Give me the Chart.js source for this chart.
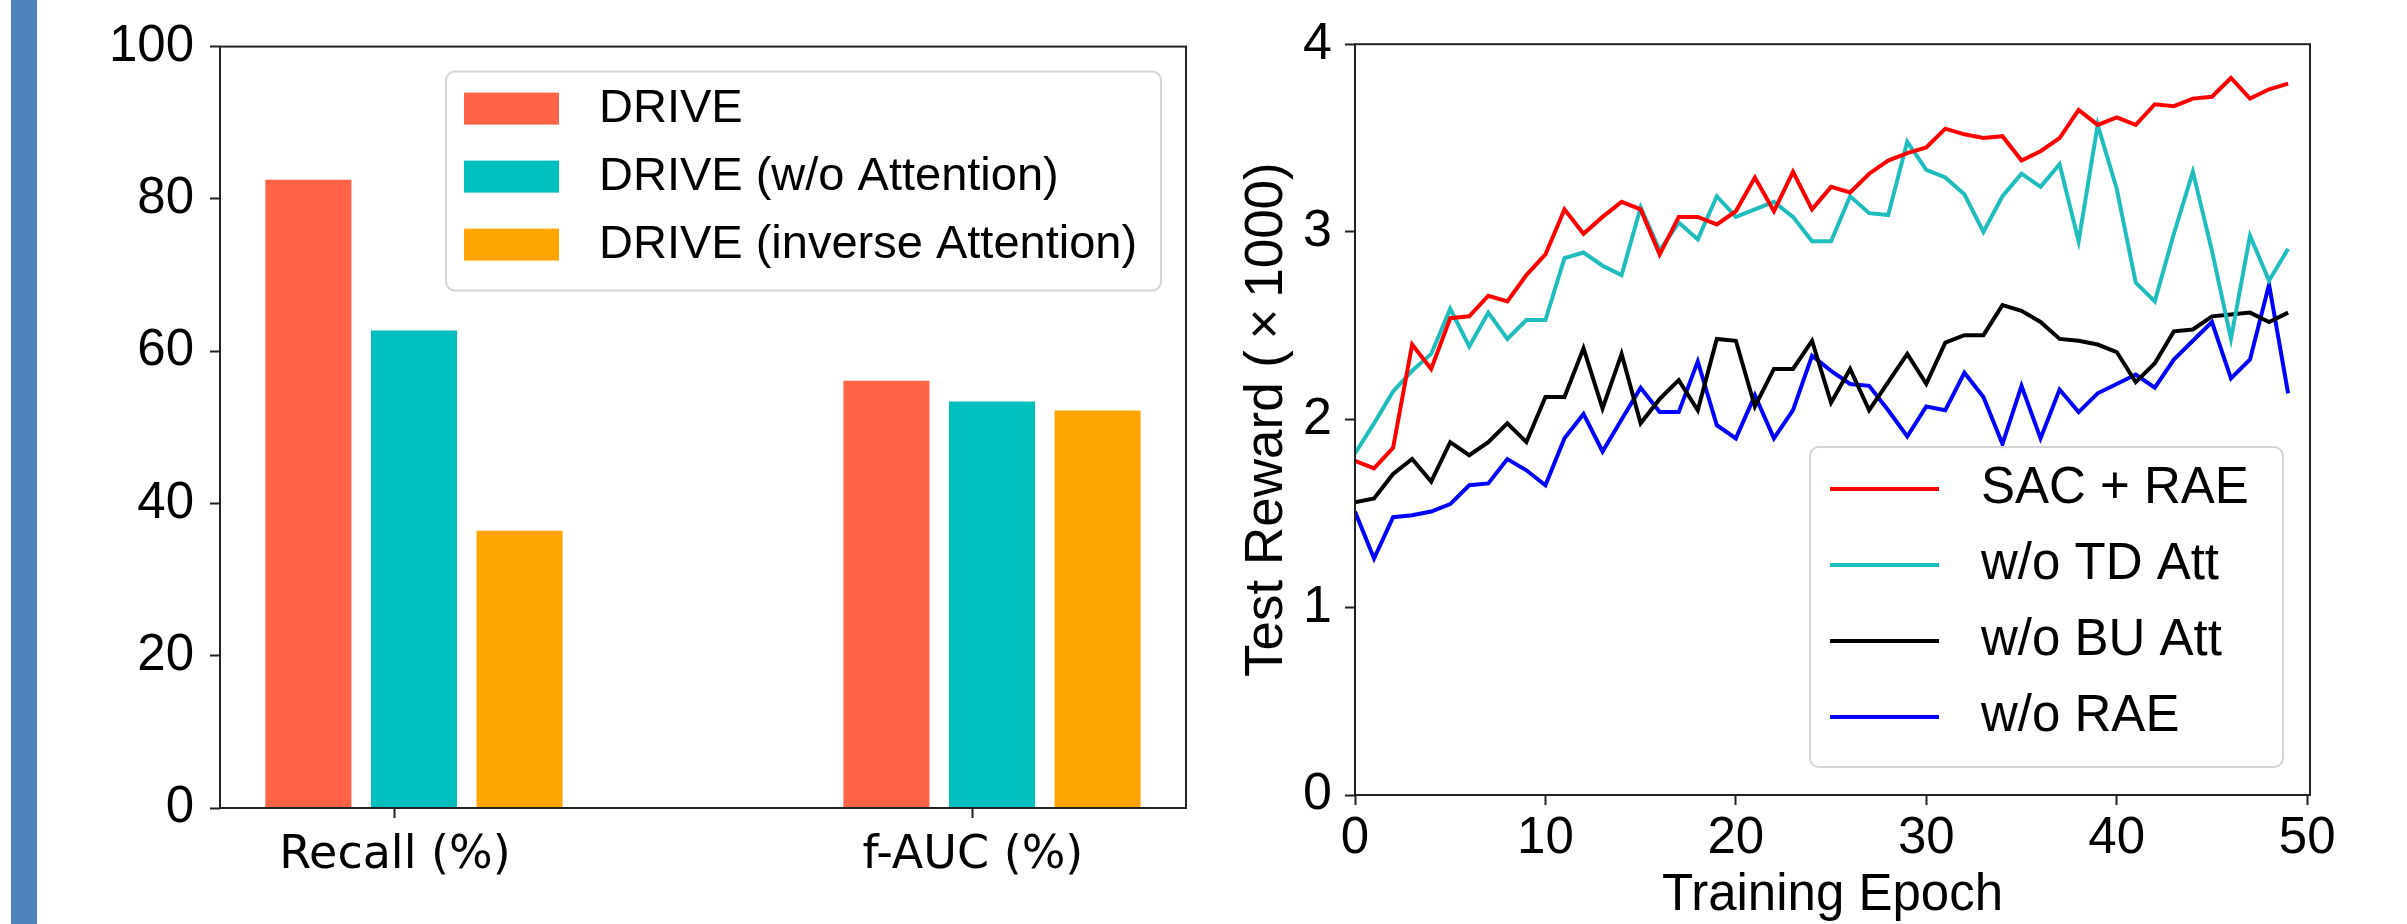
<!DOCTYPE html>
<html>
<head>
<meta charset="utf-8">
<script src="https://cdn.jsdelivr.net/npm/chart.js@4.4.1/dist/chart.umd.min.js"></script>
<style>
  html, body { margin: 0; padding: 0; background: #fff; }
  body { width: 2407px; height: 924px; position: relative; overflow: hidden; }
  #strip { position: absolute; left: 11px; top: 0; width: 26px; height: 924px; background: #4f81bd; }
  #barChart { position: absolute; left: 40px; top: 0; }
  #lineChart { position: absolute; left: 1230px; top: 0; }
</style>
</head>
<body>
<div id="strip"></div>
<canvas id="barChart" width="1190" height="924"></canvas>
<canvas id="lineChart" width="1177" height="924"></canvas>
<script>
// left panel: grouped bars
const metrics = ["Recall (%)", "f-AUC (%)"];
const driveVals = [82.5, 56.1];
const noAttVals = [62.7, 53.4];
const invAttVals = [36.4, 52.2];
const barTicks = [0, 20, 40, 60, 80, 100];

// right panel: test reward per epoch (x1000)
const epochs = [0, 1, 2, 3, 4, 5, 6, 7, 8, 9, 10, 11, 12, 13, 14, 15, 16, 17, 18, 19,
  20, 21, 22, 23, 24, 25, 26, 27, 28, 29, 30, 31, 32, 33, 34, 35, 36, 37, 38, 39,
  40, 41, 42, 43, 44, 45, 46, 47, 48, 49];
const sacRae = [1.78, 1.74, 1.85, 2.40, 2.27, 2.54, 2.55, 2.66, 2.63, 2.77,
  2.88, 3.12, 2.99, 3.08, 3.16, 3.12, 2.88, 3.08, 3.08, 3.04,
  3.11, 3.29, 3.11, 3.32, 3.12, 3.24, 3.21, 3.31, 3.38, 3.42,
  3.45, 3.55, 3.52, 3.50, 3.51, 3.38, 3.43, 3.50, 3.65, 3.57,
  3.61, 3.57, 3.68, 3.67, 3.71, 3.72, 3.82, 3.71, 3.76, 3.79];
const noTdAtt = [1.82, 1.98, 2.15, 2.26, 2.35, 2.59, 2.39, 2.57, 2.43, 2.53,
  2.53, 2.86, 2.89, 2.82, 2.77, 3.13, 2.90, 3.05, 2.96, 3.19,
  3.08, 3.12, 3.16, 3.08, 2.95, 2.95, 3.19, 3.10, 3.09, 3.48,
  3.33, 3.29, 3.20, 3.00, 3.19, 3.31, 3.24, 3.36, 2.95, 3.57,
  3.23, 2.73, 2.63, 2.99, 3.32, 2.90, 2.43, 2.98, 2.74, 2.91];
const noBuAtt = [1.56, 1.58, 1.71, 1.79, 1.67, 1.88, 1.81, 1.88, 1.98, 1.88,
  2.12, 2.12, 2.38, 2.06, 2.35, 1.98, 2.11, 2.21, 2.05, 2.43,
  2.42, 2.07, 2.27, 2.27, 2.42, 2.09, 2.27, 2.05, 2.20, 2.35,
  2.19, 2.41, 2.45, 2.45, 2.61, 2.58, 2.52, 2.43, 2.42, 2.40,
  2.36, 2.20, 2.30, 2.47, 2.48, 2.55, 2.56, 2.57, 2.52, 2.57];
const noRae = [1.51, 1.26, 1.48, 1.49, 1.51, 1.55, 1.65, 1.66, 1.79, 1.73,
  1.65, 1.90, 2.03, 1.83, 2.00, 2.17, 2.04, 2.04, 2.31, 1.97,
  1.90, 2.13, 1.90, 2.05, 2.34, 2.26, 2.19, 2.18, 2.05, 1.91,
  2.07, 2.05, 2.25, 2.12, 1.87, 2.18, 1.90, 2.16, 2.04, 2.14,
  2.19, 2.24, 2.17, 2.32, 2.42, 2.52, 2.22, 2.32, 2.72, 2.14];
const epochTicks = [0, 10, 20, 30, 40, 50];
const rewardTicks = [0, 1, 2, 3, 4];

Chart.defaults.font.family = "'Liberation Sans', Arial, sans-serif";
Chart.defaults.color = "#000";

const AXIS = "#222";

// matplotlib-style box around the plot area
const framePlugin = {
  id: "frame",
  afterDraw(chart) {
    const { ctx, chartArea: a } = chart;
    ctx.save();
    ctx.strokeStyle = AXIS;
    ctx.lineWidth = 2;
    ctx.strokeRect(a.left, a.top, a.right - a.left, a.bottom - a.top);
    ctx.restore();
  }
};

// legend drawn inside the axes with a rounded frame
const boxLegend = {
  id: "boxLegend",
  afterDraw(chart, args, o) {
    const { ctx, chartArea: a } = chart;
    const x = a.right - o.right - o.width;
    const y = o.top != null ? a.top + o.top : a.bottom - o.bottom - o.height;
    ctx.save();
    ctx.beginPath();
    ctx.roundRect(x, y, o.width, o.height, 9);
    ctx.fillStyle = "rgba(255,255,255,0.8)";
    ctx.fill();
    ctx.strokeStyle = "#d4d4d4";
    ctx.lineWidth = 2;
    ctx.stroke();
    ctx.font = o.font;
    ctx.textBaseline = "middle";
    chart.data.datasets.forEach((ds, i) => {
      const cy = y + o.firstRow + i * o.rowGap;
      if (o.patch) {
        ctx.fillStyle = ds.backgroundColor;
        ctx.fillRect(x + o.handleX, cy - o.patch / 2, o.handleW, o.patch);
      } else {
        ctx.strokeStyle = ds.borderColor;
        ctx.lineWidth = ds.borderWidth;
        ctx.beginPath();
        ctx.moveTo(x + o.handleX, cy);
        ctx.lineTo(x + o.handleX + o.handleW, cy);
        ctx.stroke();
      }
      ctx.fillStyle = "#000";
      ctx.fillText(ds.label, x + o.textX, cy);
    });
    ctx.restore();
  }
};

const tickGrid = { drawOnChartArea: false, drawTicks: true, tickLength: 10, tickWidth: 2, tickColor: AXIS, offset: false };

new Chart(document.getElementById("barChart"), {
  type: "bar",
  data: {
    datasets: [
      { label: "DRIVE", data: metrics.map((m, i) => ({ x: i, y: driveVals[i] })), backgroundColor: "#ff6347" },
      { label: "DRIVE (w/o Attention)", data: metrics.map((m, i) => ({ x: i, y: noAttVals[i] })), backgroundColor: "#00bfbf" },
      { label: "DRIVE (inverse Attention)", data: metrics.map((m, i) => ({ x: i, y: invAttVals[i] })), backgroundColor: "#ffa500" }
    ]
  },
  options: {
    responsive: false,
    animation: false,
    categoryPercentage: 0.548,
    barPercentage: 0.815,
    layout: { padding: { top: 39, right: 44, left: 0, bottom: 0 } },
    scales: {
      x: {
        type: "linear", offset: false, min: -0.3356, max: 1.3356,
        afterBuildTicks: s => { s.ticks = metrics.map((m, i) => ({ value: i - 0.033 })); },
        afterFit: s => { s.height = 116; },
        grid: tickGrid,
        border: { display: false },
        ticks: { callback: (v, i) => metrics[i], font: { family: "'DejaVu Sans'", size: 46 }, padding: 10, maxRotation: 0, autoSkip: false }
      },
      y: {
        min: 0, max: 100,
        afterBuildTicks: s => { s.ticks = barTicks.map(v => ({ value: v })); },
        afterFit: s => { s.width = 180; },
        grid: tickGrid,
        border: { display: false },
        ticks: { font: { size: 51 }, padding: 16 }
      }
    },
    plugins: {
      legend: { display: false },
      tooltip: { enabled: false },
      boxLegend: { top: 25, right: 25, width: 715, height: 219, firstRow: 37, rowGap: 68,
        handleX: 18, handleW: 95, patch: 32, textX: 153, font: "47px 'Liberation Sans'" }
    }
  },
  plugins: [framePlugin, boxLegend]
});

new Chart(document.getElementById("lineChart"), {
  type: "line",
  data: {
    labels: epochs,
    datasets: [
      { label: "SAC + RAE", data: sacRae, borderColor: "#ff0000", borderWidth: 4 },
      { label: "w/o TD Att", data: noTdAtt, borderColor: "#1fbdbd", borderWidth: 4 },
      { label: "w/o BU Att", data: noBuAtt, borderColor: "#000000", borderWidth: 4 },
      { label: "w/o RAE", data: noRae, borderColor: "#0000ff", borderWidth: 4 }
    ]
  },
  options: {
    responsive: false,
    animation: false,
    elements: { point: { radius: 0 }, line: { tension: 0 } },
    layout: { padding: { top: 37, right: 97, left: 0, bottom: 0 } },
    scales: {
      x: {
        type: "linear", min: 0, max: 50.15,
        afterBuildTicks: s => { s.ticks = epochTicks.map(v => ({ value: v })); },
        afterFit: s => { s.height = 129; },
        grid: tickGrid,
        border: { display: false },
        ticks: { font: { size: 51 }, padding: 3, maxRotation: 0, autoSkip: false },
        title: { display: true, text: "Training Epoch", font: { size: 51, lineHeight: 1.1 }, padding: { top: 0, bottom: 0 } }
      },
      y: {
        min: 0, max: 4,
        afterBuildTicks: s => { s.ticks = rewardTicks.map(v => ({ value: v })); },
        afterFit: s => { s.width = 125; },
        grid: tickGrid,
        border: { display: false },
        ticks: { font: { size: 52 }, padding: 13 },
        title: { display: true, text: "Test Reward (\u2009×\u20091000)", font: { size: 53, lineHeight: 1.2 }, padding: { top: 6, bottom: 0 } }
      }
    },
    plugins: {
      legend: { display: false },
      tooltip: { enabled: false },
      boxLegend: { bottom: 28, right: 27, width: 473, height: 320, firstRow: 42, rowGap: 76,
        handleX: 20, handleW: 109, textX: 171, font: "51px 'Liberation Sans'" }
    }
  },
  plugins: [framePlugin, boxLegend]
});
</script>
</body>
</html>
